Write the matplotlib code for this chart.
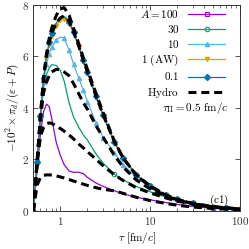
import matplotlib
matplotlib.use("Agg")
import matplotlib.pyplot as plt
from matplotlib.lines import Line2D
from matplotlib.ticker import FixedLocator, FuncFormatter, LogLocator, NullLocator

plt.rcParams["mathtext.fontset"] = "cm"
plt.rcParams["font.family"] = "serif"
plt.rcParams["font.serif"] = ["DejaVu Serif"]

tau = [0.5, 0.55, 0.6, 0.65, 0.7, 0.75, 0.8, 0.9, 1.0, 1.1, 1.25, 1.4, 1.6, 1.8, 2.0,
       2.5, 3.0, 4.0, 5.0, 7.0, 10, 15, 20, 30, 50, 70, 100]

# kinetic curves, -10^2 pi_d/(e+P)
a100 = [0, 1.6, 3.0, 3.85, 4.15, 4.05, 3.6, 2.65, 2.15, 1.8, 1.55, 1.5, 1.5, 1.45, 1.3,
        1.08, 0.95, 0.78, 0.66, 0.53, 0.43, 0.32, 0.25, 0.17, 0.1, 0.07, 0.05]
a30 = [0, 1.8, 3.5, 4.8, 5.3, 5.55, 5.68, 5.65, 5.45, 5.05, 4.2, 3.65, 3.25, 2.95, 2.75,
       2.2, 1.85, 1.42, 1.2, 0.95, 0.74, 0.54, 0.41, 0.27, 0.16, 0.11, 0.07]
a10 = [0, 1.9, 3.7, 5.0, 5.7, 6.1, 6.35, 6.65, 6.75, 6.72, 6.25, 5.7, 5.15, 4.7, 4.25,
       3.4, 2.85, 2.25, 1.8, 1.3, 0.92, 0.62, 0.45, 0.29, 0.17, 0.12, 0.08]
a1 = [0, 1.9, 3.7, 5.1, 5.95, 6.45, 6.8, 7.2, 7.4, 7.45, 7.28, 6.9, 6.35, 5.8, 5.35,
      4.4, 3.68, 2.65, 2.03, 1.38, 0.96, 0.62, 0.45, 0.29, 0.17, 0.12, 0.08]
a01 = [0, 1.9, 3.7, 5.15, 6.0, 6.55, 6.9, 7.3, 7.5, 7.55, 7.35, 6.95, 6.4, 5.85, 5.4,
       4.45, 3.72, 2.68, 2.05, 1.4, 0.97, 0.62, 0.45, 0.29, 0.17, 0.12, 0.08]

# hydro curves
hydro = [
    [0, 1.9, 3.7, 5.2, 6.1, 6.7, 7.1, 7.6, 7.85, 7.9, 7.6, 7.1, 6.5, 5.95, 5.5,
     4.55, 3.8, 2.7, 2.05, 1.38, 0.95, 0.6, 0.44, 0.28, 0.16, 0.11, 0.07],
    [0, 1.9, 3.7, 5.15, 6.0, 6.55, 6.9, 7.3, 7.5, 7.58, 7.38, 6.95, 6.4, 5.85, 5.4,
     4.45, 3.72, 2.68, 2.05, 1.4, 0.97, 0.62, 0.45, 0.29, 0.17, 0.12, 0.08],
    [0, 1.9, 3.6, 4.6, 5.0, 5.25, 5.4, 5.5, 5.48, 5.4, 5.25, 4.95, 4.55, 4.2, 3.95,
     3.3, 2.85, 2.15, 1.7, 1.2, 0.85, 0.57, 0.42, 0.27, 0.16, 0.11, 0.075],
    [0, 1.8, 2.9, 3.25, 3.38, 3.42, 3.4, 3.3, 3.2, 3.1, 2.95, 2.8, 2.6, 2.45, 2.3,
     2.0, 1.75, 1.4, 1.18, 0.9, 0.7, 0.5, 0.38, 0.26, 0.15, 0.11, 0.07],
    [0, 1.0, 1.3, 1.38, 1.4, 1.4, 1.39, 1.36, 1.32, 1.28, 1.22, 1.16, 1.1, 1.04, 0.99,
     0.9, 0.84, 0.78, 0.68, 0.53, 0.4, 0.29, 0.22, 0.15, 0.09, 0.07, 0.05],
]

series = [
    (a100, r"$A=100$", "#9400d3", "s", "none", [24]),
    (a30, r"$30$", "#009e73", "o", "none", [17, 24]),
    (a10, r"$10$", "#56b4e9", "^", None, 0.035),
    (a1, r"$1\ (\mathrm{AW})$", "#e69f00", "v", None, 0.02),
    (a01, r"$0.1$", "#0072b2", "D", None, 0.07),
]

fig = plt.figure(figsize=(2.49, 2.49), dpi=100)
ax = fig.add_axes([0.134, 0.153, 0.83, 0.827])

hydro_style = dict(color="black", lw=2.2, ls=(0, (2.6, 1.6)), dash_capstyle="butt")
for h in hydro:
    ax.plot(tau, h, zorder=3, **hydro_style)

handles = []
for (vals, label, color, marker, mfc, every) in series:
    style = dict(color=color, lw=0.9, marker=marker, ms=3.2, mew=0.8)
    if mfc:
        style["markerfacecolor"] = mfc
    ax.plot(tau, vals, markevery=every, zorder=2, **style)
    handles.append(Line2D([], [], label=label, **style))
handles.append(Line2D([], [], label=r"$\mathrm{Hydro}$", **hydro_style))

ax.set_xscale("log")
ax.set_xlim(0.5, 100)
ax.set_ylim(0, 8)
ax.xaxis.set_major_locator(FixedLocator([1, 10, 100]))
ax.xaxis.set_minor_locator(LogLocator(base=10, subs=range(2, 10)))
ax.xaxis.set_major_formatter(FuncFormatter(lambda v, p: f"${v:g}$"))
ax.yaxis.set_major_locator(FixedLocator([0, 2, 4, 6, 8]))
ax.yaxis.set_minor_locator(NullLocator())
ax.yaxis.set_major_formatter(FuncFormatter(lambda v, p: f"${v:g}$"))
ax.tick_params(which="both", direction="in", top=True, right=True, labelsize=8, colors="#333333")
ax.tick_params(which="major", length=3.5, width=0.6, pad=3)
ax.tick_params(which="minor", length=2, width=0.5)
for s in ax.spines.values():
    s.set_color("#333333")
    s.set_linewidth(0.7)

ax.set_xlabel(r"$\tau\ [\mathrm{fm}/c]$", fontsize=8, labelpad=2)
ax.set_ylabel(r"$-10^2\times\pi_d/(\varepsilon+P)$", fontsize=8, labelpad=1)

leg = ax.legend(handles=handles, loc="upper right", bbox_to_anchor=(0.927, 0.985),
                frameon=False, markerfirst=False, numpoints=1, fontsize=8,
                handlelength=3.3, handletextpad=0.8, labelspacing=0.25,
                borderaxespad=0, borderpad=0)
for vp in leg._legend_box._children[-1]._children:
    vp.align = "right"

ax.text(0.942, 0.5, r"$\tau_\Pi=0.5\ \mathrm{fm}/c$", transform=ax.transAxes,
        ha="right", va="center", fontsize=8)
ax.text(0.9, 0.05, r"$(\mathrm{c1})$", transform=ax.transAxes,
        ha="center", va="center", fontsize=8)

fig.savefig("out.png", dpi=100)
